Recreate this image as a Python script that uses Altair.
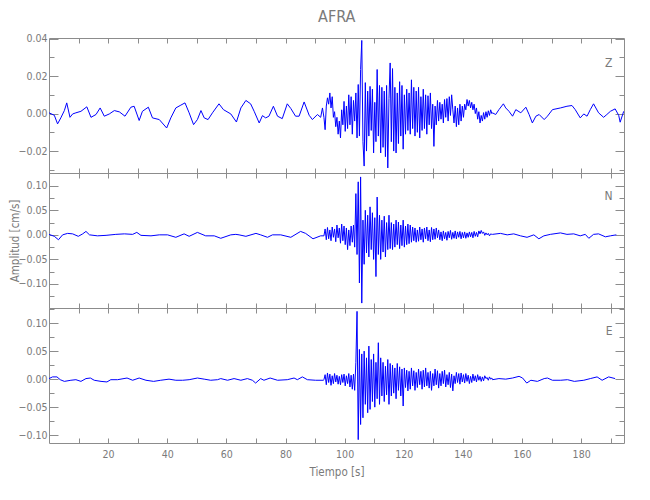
import altair as alt
import numpy as np
import pandas as pd

FONT = "DejaVu Sans Condensed, Liberation Sans, sans-serif"
LINE_COLOR = "#0000ff"
GRAY = "#7a7a7a"

DT = 0.4
EVENT_START = 93.0
X_MAX = 194.5
X_TICKS = [10, 20, 30, 40, 50, 60, 70, 80, 90, 100, 110, 120, 130, 140, 150, 160, 170, 180, 190]

# ---------------- Z component (units of 1e-4 cm/s) ----------------
Z_QUIET_T = [0, 1.8, 2.9, 4.0, 5.2, 6.0, 7.1, 8.0, 9.1, 10.8,
             12.8, 14.2, 15.9, 17.3, 18.7, 20.4, 22.1, 23.8, 25.7, 27.7,
             28.8, 30.5, 31.6, 33.6, 35.0, 37.3, 39.8, 41.2, 42.9, 44.6,
             46.0, 47.4, 48.9, 50.2, 51.4, 52.5, 53.8, 55.3, 57.5, 59.0,
             61.5, 63.4, 64.9, 66.6, 68.2, 69.4, 71.1, 72.2, 73.3, 74.4,
             75.9, 77.3, 78.9, 80.6, 81.8, 83.4, 84.6, 86.3, 88.0, 89.1,
             90.8, 91.9, 92.5]
Z_QUIET_V = [4, -9, -55, -23, 16, 57, -20, -2, 4, 12,
             36, -20, -5, 30, -14, -2, 16, 9, -14, 34,
             39, -37, 12, 34, -23, -32, -77, -23, 30, 45,
             57, 4, -59, -32, 16, -23, -32, 4, 52, 21,
             -2, -45, 30, 70, 52, 12, -50, -11, -23, -14,
             39, -14, -27, 52, 27, -14, -14, 62, -9, -32,
             -5, -20, 30]
Z_EVENT_V = [-20, -86, 40, 84, 50, 110, 30, 90, -20, 10,
             -70, -20, -110, -40, -130, 20, -60, 65, -95, 40,
             -80, 100, -60, 90, -110, 70, -40, 110, -130, 155,
             -120, 235, 390, -150, -280, 165, -200, 120, -120, 145,
             -90, 130, -210, 60, -150, 235, -120, 150, -210, 140,
             -180, 120, -230, 150, -290, 80, 270, -150, 240, -200,
             140, -210, 110, -160, 170, -120, 150, -190, 100, -110,
             130, -90, 110, -110, 180, -80, 140, -120, 120, -100,
             140, -130, 90, -90, 130, -80, 100, -110, 95, -60,
             110, -80, 50, -175, 40, -60, 70, -40, 60, -30,
             50, -50, 75, -20, 80, -40, 90, -10, 100, 20,
             -50, 40, -70, 30, -60, 50, -40, 40, -20, 50,
             20, 75, 40, 70, 30, 60, 20, 50, 0, 30,
             -30, 10, -50, -10, -40, 5, -30, 10, -20, 15,
             -10, 20, 0]
Z_TAIL_T = [150.0, 151.1, 152.2, 153.7, 154.5, 155.6, 156.8, 157.9, 159.6, 161.3,
            162.4, 163.5, 164.7, 165.8, 167.5, 168.6, 170.3, 173.0, 175.2, 176.9,
            178.0, 179.7, 180.9, 182.0, 183.1, 184.2, 185.9, 187.6, 188.7, 189.9,
            191.5, 192.7, 193.2, 194.4]
Z_TAIL_V = [4, -5, 21, 52, 30, 12, -14, 21, 4, 34,
            -5, -50, -14, -5, -32, -14, 21, 30, 39, 43,
            21, -23, -2, -14, 21, 52, 4, -20, -5, 12,
            25, -9, -46, 12]

# ---------------- N component (units of 1e-3 cm/s) ----------------
N_QUIET_T = [0, 1.8, 3.2, 4.6, 6.3, 8.0, 9.9, 11.4, 12.5, 13.7,
             16.4, 19.3, 22.6, 25.5, 28.3, 29.7, 31.1, 34.5, 37.3, 40.1,
             42.9, 45.7, 47.4, 50.2, 53.0, 55.9, 58.1, 61.5, 63.2, 64.3,
             66.6, 70.0, 71.6, 73.9, 75.6, 78.4, 81.8, 85.1, 86.8, 89.3,
             91.9]
N_QUIET_V = [1, -3, -10, 0, 3, 2, -3, 2, 7, 0,
             -2, -1, 1, 2, 1, 5, -1, -2, 0, 0,
             -5, 2, -3, 5, -2, -2, -7, 0, 1, 0,
             -3, 3, 0, -5, 0, 0, -5, 7, 3, -8,
             -2]
N_EVENT_V = [-2, 12, -10, 15, -8, 10, -12, 16, -5, 12,
             -14, 20, -6, 14, -17, 22, -12, 18, -20, 14,
             -30, 10, -22, 18, -15, 20, -25, 84, -40, 108,
             -98, 118, -139, 30, -60, 50, -37, 40, -45, 57,
             -30, 45, -50, 35, -85, 77, -40, 40, -50, 30,
             -35, 38, -45, 25, -30, 40, -28, 25, -30, 22,
             -25, 30, -20, 26, -28, 20, -22, 30, -25, 18,
             -20, 22, -18, 20, -15, 16, -12, 14, -15, 10,
             -13, 16, -10, 12, -15, 14, -8, 16, -12, 10,
             -14, 15, -10, 12, -9, 14, -6, 10, -10, 6,
             -12, 8, -8, 5, -11, 7, -6, 9, -9, 5,
             -7, 8, -8, 6, -5, 7, -8, 5, -6, 6,
             -7, 4, -5, 6, -4, 5, -6, 7, -3, 5,
             -4, 8, 2, 9, 3, 6, -1, 4, 0, 3,
             -2, 2, 1]
N_TAIL_T = [150.0, 152.7, 155.0, 157.2, 159.5, 161.7, 164.0, 165.7, 167.4, 169.6,
            173.0, 175.2, 177.5, 179.7, 181.4, 182.6, 184.2, 185.9, 188.2, 189.9,
            191.9]
N_TAIL_V = [1, 3, 0, 2, -2, -5, 0, -8, -2, 1,
            4, 1, 2, -2, 1, -7, 1, 2, -4, -2,
            0]

# ---------------- E component (units of 1e-3 cm/s) ----------------
E_QUIET_T = [0, 1.2, 2.7, 3.8, 5.2, 7.4, 9.1, 10.8, 12.5, 14.0,
             15.3, 17.6, 19.6, 20.9, 23.2, 26.4, 28.3, 30.5, 32.8, 35.4,
             37.8, 40.6, 42.9, 45.2, 47.4, 50.2, 52.5, 54.7, 57.0, 58.1,
             60.4, 62.6, 64.9, 67.1, 68.8, 69.9, 71.6, 72.7, 74.8, 77.3,
             80.6, 82.9, 84.0, 85.7, 87.4, 90.2, 92.8]
E_QUIET_V = [1, 4, 4, -1, -4, -2, -1, -4, 1, 2,
             -2, -4, -5, -1, -1, 2, -2, 2, -2, -4,
             -2, 0, -2, -2, -1, 2, 0, -2, -1, 1,
             -2, 1, -2, 1, -2, -7, 1, -2, 2, -2,
             -1, 2, -1, 4, -1, -2, -2]
E_EVENT_V = [-1, 8, -10, 11, -6, 9, -11, 6, -8, 10,
             -5, 7, -9, 5, -10, 8, -6, 9, -12, 6,
             -8, 10, -14, 7, -18, 9, -20, 30, 121, -108,
             53, -81, 45, -69, 50, -45, 38, -60, 59, -54,
             35, -40, 45, -50, 30, -35, 65, -45, 38, -30,
             30, -40, 23, -28, 35, -45, 28, -30, 25, -25,
             20, -35, 28, -20, 22, -30, 18, -48, 20, -15,
             16, -21, 14, -18, 20, -12, 15, -20, 12, -15,
             18, -10, 14, -18, 16, -14, 20, -12, 12, -16,
             14, -20, 10, -12, 18, -10, 15, -16, 10, -12,
             14, -8, 16, -14, 8, -10, 12, -15, 9, -21,
             6, -8, 12, -6, 10, -9, 11, -5, 8, -7,
             10, -4, 7, -8, 5, -6, 9, -3, 6, -5,
             8, -2, 5, -4, 4, -3, 6, 1, 3, -2,
             4, 0, 2]
E_TAIL_T = [150.0, 152.2, 154.5, 156.8, 159.0, 160.2, 161.6, 163.0, 165.2, 167.5,
            168.6, 170.3, 173.1, 175.4, 177.7, 180.9, 183.1, 185.4, 187.1, 189.3,
            191.5]
E_TAIL_V = [-1, 1, 0, 2, 5, 2, -7, -2, -4, 1,
            2, -2, -2, -1, -4, -2, 1, 4, -2, 4,
            1]


def build(qt, qv, ev, tt, tv, unit):
    et = EVENT_START + DT * np.arange(len(ev))
    t = np.concatenate([np.array(qt, float), et, np.array(tt, float)])
    v = np.concatenate([np.array(qv, float), np.array(ev, float), np.array(tv, float)]) * unit
    return pd.DataFrame({"t": t, "v": v})


df_z = build(Z_QUIET_T, Z_QUIET_V, Z_EVENT_V, Z_TAIL_T, Z_TAIL_V, 1e-4)
df_n = build(N_QUIET_T, N_QUIET_V, N_EVENT_V, N_TAIL_T, N_TAIL_V, 1e-3)
df_e = build(E_QUIET_T, E_QUIET_V, E_EVENT_V, E_TAIL_T, E_TAIL_V, 1e-3)

W, H = 575, 135


def panel(df, comp, ydom, major, minor, label_offset, bottom=False, ytitle=""):
    xs = alt.Scale(domain=[0, X_MAX], nice=False, zero=False)
    ys = alt.Scale(domain=ydom, nice=False, zero=False)
    base = alt.Chart(df)

    xb_kw = dict(orient="bottom", values=X_TICKS, tickSize=5, offset=-5, domain=False,
                 grid=False, labels=bottom, title=None)
    if bottom:
        xb_kw.update(title="Tiempo [s]", titlePadding=7, labelPadding=6,
                     labelExpr="datum.value % 20 === 0 ? datum.label : ''")
    yl_kw = dict(orient="left", values=major, tickSize=9, offset=-9, domain=False,
                 grid=False, format=".2f", labelPadding=2, minExtent=0, title=None)
    if ytitle:
        yl_kw.update(title=ytitle, titlePadding=-2)

    main = base.mark_line(color=LINE_COLOR, strokeWidth=1, clip=True).encode(
        x=alt.X("t:Q", scale=xs, axis=alt.Axis(**xb_kw)),
        y=alt.Y("v:Q", scale=ys, axis=alt.Axis(**yl_kw)),
    )
    top_right = base.mark_line(opacity=0).encode(
        x=alt.X("t:Q", scale=xs, axis=alt.Axis(orient="top", values=X_TICKS, tickSize=5, offset=-5,
                                               domain=False, labels=False, grid=False, title=None)),
        y=alt.Y("v:Q", scale=ys, axis=alt.Axis(orient="right", values=major, tickSize=9, offset=-9,
                                               domain=False, labels=False, grid=False, minExtent=0,
                                               title=None)),
    )
    minor_l = base.mark_line(opacity=0).encode(
        x=alt.X("t:Q", scale=xs, axis=None),
        y=alt.Y("v:Q", scale=ys, axis=alt.Axis(orient="left", values=minor, tickSize=5, offset=-5,
                                               domain=False, labels=False, grid=False, minExtent=0,
                                               title=None)),
    )
    minor_r = base.mark_line(opacity=0).encode(
        x=alt.X("t:Q", scale=xs, axis=None),
        y=alt.Y("v:Q", scale=ys, axis=alt.Axis(orient="right", values=minor, tickSize=5, offset=-5,
                                               domain=False, labels=False, grid=False, minExtent=0,
                                               title=None)),
    )
    return alt.layer(main, top_right, minor_l, minor_r).resolve_axis(
        x="independent", y="independent"
    ).properties(
        width=W, height=H,
        title=alt.TitleParams(text=comp, orient="top", anchor="end", offset=label_offset, dx=-12,
                              fontSize=12, color=GRAY, font=FONT, fontWeight="normal"),
    )


pz = panel(df_z, "Z", [-0.0317, 0.0403], [-0.02, 0.0, 0.02, 0.04], [-0.03, -0.01, 0.01, 0.03], -36)
pn = panel(df_n, "N", [-0.149, 0.126], [-0.10, -0.05, 0.0, 0.05, 0.10],
           [-0.125, -0.075, -0.025, 0.025, 0.075, 0.125], -30, ytitle="Amplitud [cm/s]")
pe = panel(df_e, "E", [-0.114, 0.127], [-0.10, -0.05, 0.0, 0.05, 0.10],
           [-0.075, -0.025, 0.025, 0.075, 0.125], -30, bottom=True)

chart = alt.vconcat(pz, pn, pe, spacing=0, bounds="flush").properties(
    title=alt.TitleParams(text="AFRA", anchor="middle", fontSize=16, color=GRAY, font=FONT,
                          fontWeight="normal", dx=20, offset=8),
    padding={"left": 0, "top": 1, "right": 10, "bottom": 5},
).configure_view(
    stroke="#8c8c8c", strokeWidth=1
).configure_axis(
    tickColor="#8c8c8c", tickWidth=1, labelColor=GRAY, labelFont=FONT, labelFontSize=10.5,
    titleFont=FONT, titleColor=GRAY, titleFontSize=11.5, titleFontWeight="normal"
)

chart.save("out.html", embed_options={"renderer": "svg", "actions": False})
